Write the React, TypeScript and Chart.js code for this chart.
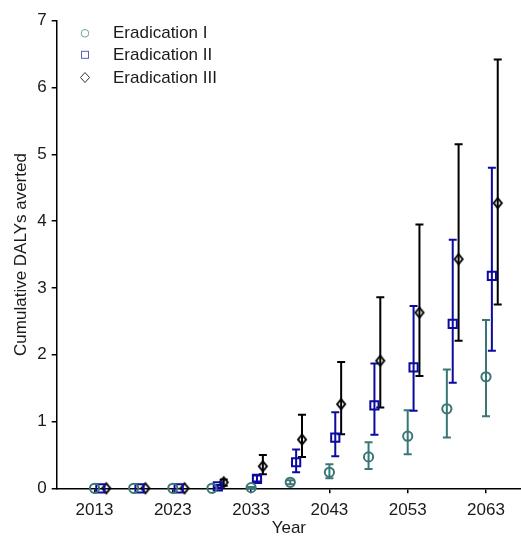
import React, { useEffect, useRef } from "react";
import { Chart, registerables } from "chart.js";

Chart.register(...registerables);

// ---- data ----
const years = [2013, 2018, 2023, 2028, 2033, 2038, 2043, 2048, 2053, 2058, 2063];
const xTickValues = [2013, 2023, 2033, 2043, 2053, 2063];
const yTickValues = [0, 1, 2, 3, 4, 5, 6, 7];
const seriesNames = ["Eradication I", "Eradication II", "Eradication III"];

const eradIMean = [0, 0, 0, 0, 0.01, 0.09, 0.24, 0.47, 0.78, 1.19, 1.67];
const eradILow = [0, 0, 0, 0, 0, 0.06, 0.15, 0.29, 0.51, 0.76, 1.08];
const eradIHigh = [0, 0, 0, 0, 0.02, 0.12, 0.36, 0.69, 1.17, 1.78, 2.52];

const eradIIMean = [0, 0, 0, 0.03, 0.14, 0.39, 0.76, 1.24, 1.81, 2.46, 3.18];
const eradIILow = [0, 0, 0, 0.01, 0.1, 0.24, 0.48, 0.8, 1.16, 1.58, 2.06];
const eradIIHigh = [0, 0, 0, 0.05, 0.19, 0.58, 1.14, 1.87, 2.73, 3.72, 4.8];

const eradIIIMean = [0, 0, 0, 0.09, 0.33, 0.73, 1.26, 1.91, 2.63, 3.43, 4.27];
const eradIIILow = [0, 0, 0, 0.04, 0.21, 0.47, 0.81, 1.21, 1.68, 2.21, 2.75];
const eradIIIHigh = [0, 0, 0, 0.13, 0.5, 1.1, 1.89, 2.86, 3.95, 5.15, 6.42];

const xAxisTitle = "Year";
const yAxisTitle = "Cumulative DALYs averted";

// ---- styles ----
const FONT = "'Liberation Sans', Arial, sans-serif";
const TEXT = "#1a1a1a";
const colors = ["#3b7676", "#0b0ba0", "#000000"];
const legendColors = ["#6fa3a0", "#5a5ac8", "#333333"];
const xShift = [0, 0.75, 1.5];

function makeDiamond(hw: number, hh: number, color: string, lw: number) {
  const c = document.createElement("canvas");
  const w = Math.round(hw * 2 + lw * 2 + 2);
  const h = Math.round(hh * 2 + lw * 2 + 2);
  c.width = w;
  c.height = h;
  const ctx = c.getContext("2d")!;
  ctx.strokeStyle = color;
  ctx.lineWidth = lw;
  ctx.beginPath();
  ctx.moveTo(w / 2, h / 2 - hh);
  ctx.lineTo(w / 2 + hw, h / 2);
  ctx.lineTo(w / 2, h / 2 + hh);
  ctx.lineTo(w / 2 - hw, h / 2);
  ctx.closePath();
  ctx.stroke();
  return c;
}

export default function App() {
  const ref = useRef<HTMLCanvasElement | null>(null);

  useEffect(() => {
    if (!ref.current) return;
    const means = [eradIMean, eradIIMean, eradIIIMean];
    const lows = [eradILow, eradIILow, eradIIILow];
    const highs = [eradIHigh, eradIIHigh, eradIIIHigh];
    const diamond = makeDiamond(4, 5, colors[2], 2);

    const errorBars = {
      id: "errorBars",
      beforeDatasetsDraw(chart: any) {
        const ctx = chart.ctx;
        const ys = chart.scales.y;
        ctx.save();
        for (let d = 0; d < 3; d++) {
          const meta = chart.getDatasetMeta(d);
          ctx.strokeStyle = colors[d];
          ctx.lineWidth = 2;
          meta.data.forEach((pt: any, i: number) => {
            const lo = lows[d][i];
            const hi = highs[d][i];
            if (hi - lo <= 0) return;
            const yt = ys.getPixelForValue(hi);
            const yb = ys.getPixelForValue(lo);
            const x = pt.x;
            ctx.beginPath();
            ctx.moveTo(x, yt);
            ctx.lineTo(x, yb);
            ctx.moveTo(x - 4, yt);
            ctx.lineTo(x + 4, yt);
            ctx.moveTo(x - 4, yb);
            ctx.lineTo(x + 4, yb);
            ctx.stroke();
          });
        }
        ctx.restore();
      },
    };

    const legendPlugin = {
      id: "innerLegend",
      afterDraw(chart: any) {
        const ctx = chart.ctx;
        const mx = 85;
        const ys = [33.3, 54.8, 77.5];
        ctx.save();
        ctx.lineWidth = 1;
        ctx.strokeStyle = legendColors[0];
        ctx.beginPath();
        ctx.arc(mx, ys[0], 3.8, 0, Math.PI * 2);
        ctx.stroke();
        ctx.strokeStyle = legendColors[1];
        ctx.strokeRect(mx - 3.5, ys[1] - 3.5, 7, 7);
        ctx.strokeStyle = legendColors[2];
        ctx.beginPath();
        ctx.moveTo(mx, ys[2] - 5);
        ctx.lineTo(mx + 4.5, ys[2]);
        ctx.lineTo(mx, ys[2] + 5);
        ctx.lineTo(mx - 4.5, ys[2]);
        ctx.closePath();
        ctx.stroke();
        ctx.fillStyle = TEXT;
        ctx.font = `17px ${FONT}`;
        ctx.textBaseline = "middle";
        ctx.textAlign = "left";
        seriesNames.forEach((n, i) => ctx.fillText(n, 113, ys[i] + 0.5));
        ctx.restore();
      },
    };

    const pointStyles: any[] = ["circle", "rect", diamond];
    const radii = [4.6, 5.8, 6];

    const chart = new Chart(ref.current, {
      type: "scatter",
      data: {
        datasets: seriesNames.map((name, d) => ({
          label: name,
          data: years.map((yr, i) => ({ x: yr + xShift[d], y: means[d][i] })),
          pointStyle: pointStyles[d],
          radius: radii[d],
          borderColor: colors[d],
          backgroundColor: "rgba(0,0,0,0)",
          borderWidth: 2,
          showLine: false,
          clip: false as any,
        })),
      },
      options: {
        animation: false,
        responsive: true,
        maintainAspectRatio: false,
        layout: { autoPadding: false, padding: { top: 20.7, left: 0, right: 0, bottom: 0 } },
        plugins: { legend: { display: false }, tooltip: { enabled: false } },
        scales: {
          x: {
            type: "linear",
            min: 2008.17,
            max: 2067.47,
            afterBuildTicks(scale: any) {
              scale.ticks = xTickValues.map((v) => ({ value: v }));
            },
            afterFit(scale: any) {
              scale.height = 536 - 488.3;
              scale.paddingRight = 0;
              scale.paddingLeft = 0;
            },
            ticks: {
              callback: (v: any) => String(v),
              font: { family: FONT, size: 17 },
              color: TEXT,
              padding: 7,
              maxRotation: 0,
              autoSkip: false,
            },
            grid: {
              display: true,
              drawOnChartArea: false,
              drawTicks: true,
              tickLength: 5,
              color: "#000",
              lineWidth: 1.5,
            },
            border: { display: true, color: "#000", width: 1.5 },
            title: {
              display: true,
              text: xAxisTitle,
              font: { family: FONT, size: 17 },
              color: TEXT,
              padding: { top: 0, bottom: -3 },
            },
          },
          y: {
            type: "linear",
            min: 0,
            max: 7,
            afterBuildTicks(scale: any) {
              scale.ticks = yTickValues.map((v) => ({ value: v }));
            },
            afterFit(scale: any) {
              scale.width = 56.7;
              scale.paddingTop = 0;
              scale.paddingBottom = 0;
            },
            ticks: {
              callback: (v: any) => String(v),
              font: { family: FONT, size: 17 },
              color: TEXT,
              padding: 5,
            },
            grid: {
              display: true,
              drawOnChartArea: false,
              drawTicks: true,
              tickLength: 5,
              color: "#000",
              lineWidth: 1.5,
            },
            border: { display: true, color: "#000", width: 1.5 },
            title: {
              display: true,
              text: yAxisTitle,
              font: { family: FONT, size: 17 },
              color: TEXT,
              padding: { top: 11, bottom: 0 },
            },
          },
        },
      },
      plugins: [errorBars, legendPlugin],
    });
    return () => chart.destroy();
  }, []);

  return (
    <div style={{ position: "absolute", left: 0, top: 0, width: 521, height: 536, background: "#fff" }}>
      <canvas ref={ref} />
    </div>
  );
}
